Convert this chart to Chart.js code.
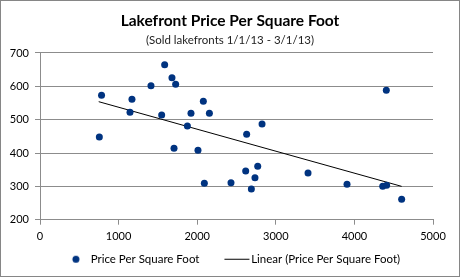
<!DOCTYPE html>
<html>
<head>
<meta charset="utf-8">
<script src="https://cdn.jsdelivr.net/npm/chart.js@4"></script>
<style>
html, body { margin: 0; padding: 0; background: #fff; }
#wrap { width: 460px; height: 277px; }
</style>
</head>
<body>
<div id="wrap"><canvas id="chart" width="460" height="277"></canvas></div>
<script>
// データ
const sqFeet = [755, 783, 1145, 1170, 1412, 1548, 1586, 1679, 1705, 1726,
    1875, 1921, 2010, 2078, 2091, 2155, 2430, 2617, 2629, 2689,
    2735, 2770, 2825, 3410, 3906, 4360, 4406, 4410, 4601];
const pricePerSqFt = [448, 573, 522, 561, 602, 514, 665, 626, 414, 606,
    481, 519, 408, 555, 309, 519, 311, 346, 456, 292,
    326, 360, 487, 340, 306, 300, 588, 303, 261];
// 近似直線の両端
const trendX = [747, 4601];
const trendY = [554, 300];
// 目盛り
const xTicks = [0, 1000, 2000, 3000, 4000, 5000];
const yTicks = [200, 300, 400, 500, 600, 700];

const navy = '#003380';
const gridColor = '#8c8c8c';
const fontFamily = 'Lato, "Open Sans", sans-serif';

// 凡例用の画像
function makeDot() {
    const cv = document.createElement('canvas');
    cv.width = 40; cv.height = 9;
    const g = cv.getContext('2d');
    g.fillStyle = navy;
    g.beginPath();
    g.arc(31, 4.5, 3.5, 0, Math.PI * 2);
    g.fill();
    return cv;
}
function makeLine() {
    const cv = document.createElement('canvas');
    cv.width = 50; cv.height = 3;
    const g = cv.getContext('2d');
    g.fillStyle = '#000';
    g.fillRect(24, 1, 25, 1);
    return cv;
}
const legendImages = [makeDot(), makeLine()];

// 外枠
const chartBorder = {
    id: 'chartBorder',
    afterDraw(chart) {
        const c = chart.ctx;
        c.save();
        c.strokeStyle = '#868686';
        c.lineWidth = 1;
        c.strokeRect(0.5, 0.5, chart.width - 1, chart.height - 1);
        c.restore();
    }
};

// タイトルは画面中央、凡例は少し右へ
const boxShift = {
    id: 'boxShift',
    afterLayout(chart) {
        chart.boxes.forEach(box => {
            if (box.position === 'top' && box.fullSize) {
                box.left = 0;
                box.right = chart.width;
            }
        });
        if (chart.legend) {
            chart.legend.left += 6;
            chart.legend.right += 6;
        }
    }
};

const points = sqFeet.map((x, i) => ({ x: x, y: pricePerSqFt[i] }));
const trend = trendX.map((x, i) => ({ x: x, y: trendY[i] }));

new Chart(document.getElementById('chart'), {
    type: 'scatter',
    data: {
        datasets: [{
            label: 'Price Per Square Foot',
            data: points,
            backgroundColor: navy,
            borderColor: navy,
            pointRadius: 3.5,
            pointHoverRadius: 3.5,
            borderWidth: 0
        }, {
            type: 'line',
            label: 'Linear (Price Per Square Foot)',
            data: trend,
            borderColor: '#000',
            borderWidth: 1,
            pointRadius: 0,
            fill: false
        }]
    },
    options: {
        responsive: false,
        animation: false,
        devicePixelRatio: 1,
        layout: { padding: { left: 0, right: 27, top: 0, bottom: 2 } },
        plugins: {
            title: {
                display: true,
                text: 'Lakefront Price Per Square Foot',
                color: '#000',
                font: { family: fontFamily, size: 15.5, weight: 'bold' },
                padding: { top: 11.5, bottom: 2 }
            },
            subtitle: {
                display: true,
                text: '(Sold lakefronts 1/1/13 - 3/1/13)',
                color: '#222',
                font: { family: fontFamily, size: 11.5 },
                padding: { top: 1, bottom: 6.1 }
            },
            legend: {
                position: 'bottom',
                labels: {
                    usePointStyle: true,
                    pointStyleWidth: 40,
                    padding: 6,
                    color: '#000',
                    font: { family: fontFamily, size: 11.5 },
                    generateLabels(chart) {
                        return chart.data.datasets.map((ds, i) => ({
                            text: ds.label,
                            pointStyle: legendImages[i],
                            fillStyle: 'transparent',
                            strokeStyle: 'transparent',
                            lineWidth: 0,
                            hidden: false,
                            datasetIndex: i
                        }));
                    }
                }
            },
            tooltip: { enabled: false }
        },
        scales: {
            x: {
                type: 'linear',
                min: xTicks[0],
                max: xTicks[xTicks.length - 1],
                afterFit(scale) { scale.height = 27.8; },
                afterBuildTicks(scale) { scale.ticks = xTicks.map(v => ({ value: v })); },
                ticks: {
                    color: '#000',
                    font: { family: fontFamily, size: 11 },
                    padding: 5,
                    maxRotation: 0,
                    callback: (value) => String(value)
                },
                grid: { drawOnChartArea: false, drawTicks: true, tickLength: 5, color: gridColor },
                border: { color: gridColor }
            },
            y: {
                min: yTicks[0],
                max: yTicks[yTicks.length - 1],
                afterFit(scale) { scale.width = 40; },
                afterBuildTicks(scale) { scale.ticks = yTicks.map(v => ({ value: v })); },
                ticks: {
                    color: '#000',
                    font: { family: fontFamily, size: 11 },
                    padding: 6,
                    callback: (value) => String(value)
                },
                grid: { color: gridColor, tickLength: 5 },
                border: { color: gridColor }
            }
        }
    },
    plugins: [chartBorder, boxShift]
});
</script>
</body>
</html>
